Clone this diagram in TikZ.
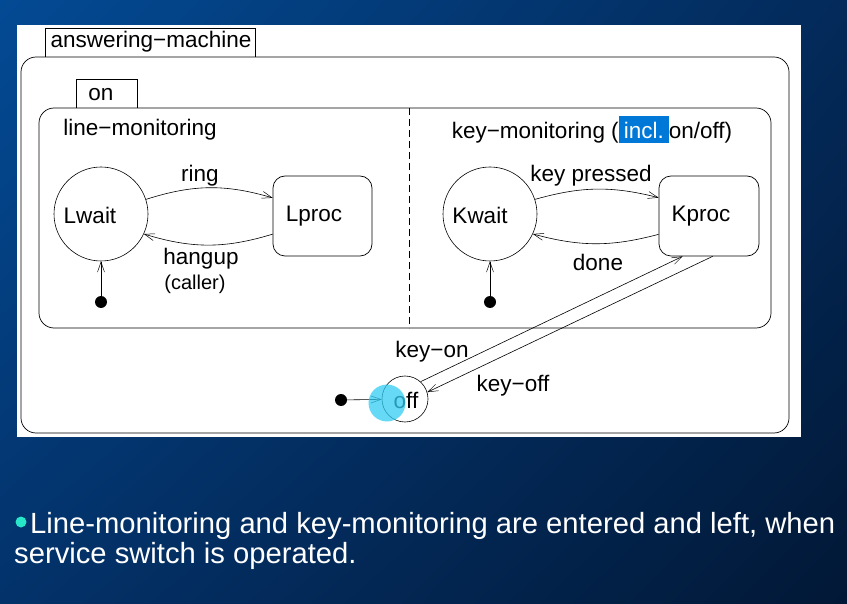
\documentclass[tikz,border=0pt]{standalone}
\usepackage{fontspec}
\setmainfont{Liberation Sans}
\usetikzlibrary{arrows.meta,calc,shadings}

\definecolor{bgTL}{RGB}{3,74,148}
\definecolor{bgTR}{RGB}{3,42,90}
\definecolor{bgBL}{RGB}{3,50,106}
\definecolor{bgBR}{RGB}{2,24,54}
\definecolor{selblue}{RGB}{0,120,215}
\definecolor{bulletcyan}{RGB}{40,230,200}
\definecolor{cursorcyan}{RGB}{50,205,242}

% selection-style highlight used inside a label
\newcommand\selbox[1]{{\setlength{\fboxsep}{0pt}%
  \colorbox{selblue}{\rule[-5pt]{0pt}{27pt}\hspace{5pt}\textcolor{white}{#1}\hspace{5pt}}}}

\begin{document}
\begin{tikzpicture}[x=1pt,y=-1pt,
  lbl/.style={font=\fontsize{22.5}{25}\selectfont,inner sep=0pt},
  small/.style={font=\fontsize{20}{23}\selectfont,inner sep=0pt},
  statebox/.style={draw=black,line width=0.7pt,rounded corners=12pt,inner sep=0pt},
  superstate/.style={draw=black,line width=0.7pt,rounded corners=15pt,inner sep=0pt},
  waitstate/.style={draw=black,line width=0.6pt,circle,inner sep=0pt,minimum size=94pt},
  initdot/.style={circle,fill=black,inner sep=0pt,minimum size=12pt},
  tr/.style={draw=black,line width=0.6pt,-{Straight Barb[length=10pt,width=7pt,line width=0.5pt]}},
  tab/.style={draw=black,line width=0.7pt},
  note/.style={text=white,font=\fontsize{29.2}{34}\selectfont,inner sep=0pt,anchor=base west}]

  % slide background
  \shade[upper left=bgTL,upper right=bgTR,lower left=bgBL,lower right=bgBR]
    (0,0) rectangle (847,604);
  \useasboundingbox (0,0) rectangle (847,604);

  % diagram panel
  \fill[white] (17,25) rectangle (801,437);

  % answering-machine superstate and its name tab
  \node[superstate,minimum width=768pt,minimum height=376pt] (am) at (405,245) {};
  \draw[tab] (45,57) |- (255,28) -- (255,57);
  \node[lbl] (amname) at (151,42) {answering−machine};

  % "on" superstate with its two concurrent regions
  \node[superstate,minimum width=732pt,minimum height=220pt] (on) at (405,218) {};
  \draw[tab] (76,108) |- (137,79) -- (137,108);
  \node[lbl] (onname) at (101,95) {on};
  \draw[line width=0.7pt,dash pattern=on 7pt off 4pt] (409,108) -- (409,328);

  \node[lbl] (lmname) at (140,130) {line−monitoring};
  \node[lbl] (kmname) at (592,130) {key−monitoring (\selbox{incl.}on/off)};

  % line monitoring
  \node[waitstate] (Lwait) at (101,214) {};
  \node[lbl] (LwaitTxt) at (90,215) {Lwait};
  \node[statebox,minimum width=99pt,minimum height=80pt] (Lproc) at (322.5,216) {};
  \node[lbl] (LprocTxt) at (314,216) {Lproc};
  \node[initdot] (Linit) at (101,302) {};

  \draw[tr] (Lwait.18) to[bend left=17] (Lproc.160);
  \draw[tr] (Lproc.200) to[bend left=17] (Lwait.-25);
  \draw[tr] (Linit) -- (Lwait);
  \node[lbl] (ringLbl) at (200,176) {ring};
  \node[lbl] (hangupLbl) at (201,259) {hangup};
  \node[small] (callerLbl) at (195,284) {(caller)};

  % key monitoring
  \node[waitstate] (Kwait) at (490,214) {};
  \node[lbl] (KwaitTxt) at (480,215) {Kwait};
  \node[statebox,minimum width=100pt,minimum height=80pt] (Kproc) at (709,216) {};
  \node[lbl] (KprocTxt) at (701,216) {Kproc};
  \node[initdot] (Kinit) at (490,302) {};

  \draw[tr] (Kwait.18) to[bend left=15] (Kproc.160);
  \draw[tr] (Kproc.200) to[bend left=15] (Kwait.-25);
  \draw[tr] (Kinit) -- (Kwait);
  \node[lbl] (keyLbl) at (591,176) {key pressed};
  \node[lbl] (doneLbl) at (598,262) {done};

  % off state and the service switch
  \node[draw=black,line width=0.6pt,circle,inner sep=0pt,minimum size=46pt] (off) at (405,399) {};
  \node[lbl] (offTxt) at (406,400) {off};
  \node[initdot] (Oinit) at (341,400) {};
  \draw[tr] (Oinit) -- (off);

  \coordinate (konEnd) at ($(Kproc.south west)+(24,0)$);
  \coordinate (koffStart) at ($(Kproc.south west)+(54,0)$);
  \draw[tr] (off.48) -- (konEnd);
  \draw[tr] (koffStart) -- (off.17);
  \node[lbl] (konLbl) at (432,352) {key−on};
  \node[lbl] (koffLbl) at (513,386) {key−off};

  % pointer highlight
  \node[circle,fill=cursorcyan,fill opacity=0.75,inner sep=0pt,minimum size=37pt] (pointer) at (387,403) {};

  % caption below the diagram
  \node[circle,fill=bulletcyan,inner sep=0pt,minimum size=11pt] (bullet) at (21,522) {};
  \node[note] (note1) at (30,533) {Line-monitoring and key-monitoring are entered and left, when};
  \node[note] (note2) at (14,563) {service switch is operated.};
\end{tikzpicture}
\end{document}
